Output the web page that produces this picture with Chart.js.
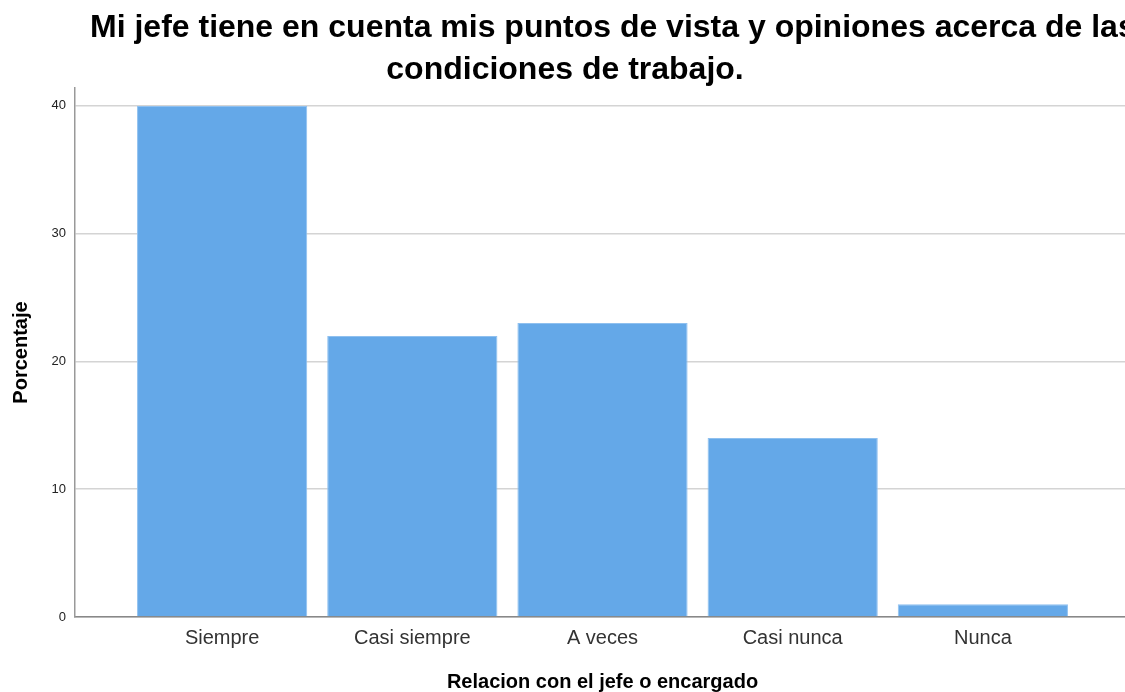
<!DOCTYPE html>
<html>
<head>
<meta charset="utf-8">
<script src="https://cdn.jsdelivr.net/npm/chart.js@4"></script>
<style>
  html, body { margin: 0; padding: 0; background: #fff; overflow: hidden; }
  #wrap { width: 1130px; height: 692px; }
</style>
</head>
<body>
<div id="wrap"><canvas id="chart"></canvas></div>
<script>
const categories = ['Siempre', 'Casi siempre', 'A veces', 'Casi nunca', 'Nunca'];
const porcentaje = [40, 22, 23, 14, 1];
const yTicks = [0, 10, 20, 30, 40];
const titleLines = ['Mi jefe tiene en cuenta mis puntos de vista y opiniones acerca de las', 'condiciones de trabajo.'];

const titlePlugin = {
  id: 'spssTitle',
  afterDraw(chart) {
    const ctx = chart.ctx;
    ctx.save();
    ctx.fillStyle = '#000';
    ctx.font = 'bold 32px "Liberation Sans", Arial, sans-serif';
    ctx.textBaseline = 'middle';
    ctx.textAlign = 'left';
    ctx.fillText(titleLines[0], 90, 28);
    ctx.textAlign = 'center';
    ctx.fillText(titleLines[1], 565, 70);
    ctx.restore();
  }
};

new Chart(document.getElementById('chart'), {
  type: 'bar',
  data: {
    datasets: [{
      label: 'Porcentaje',
      data: porcentaje.map((v, i) => ({ x: i + 1, y: v })),
      backgroundColor: '#64a8e8',
      borderColor: '#8fc0ef',
      borderWidth: 1,
      categoryPercentage: 1,
      barPercentage: 0.895
    }]
  },
  options: {
    animation: false,
    responsive: true,
    maintainAspectRatio: false,
    layout: { padding: { top: 88, left: 0, right: 0, bottom: 0 } },
    plugins: { legend: { display: false }, tooltip: { enabled: false } },
    scales: {
      x: {
        type: 'linear',
        offset: false,
        min: 1 - 147 / 190,
        max: 1 + 907 / 190,
        afterBuildTicks: s => { s.ticks = categories.map((c, i) => ({ value: i + 1 })); },
        afterFit: s => { s.height = 75; },
        grid: { display: false, drawTicks: false },
        border: { color: '#888', width: 1.5 },
        ticks: {
          padding: 9,
          color: '#333',
          font: { family: '"Liberation Sans", Arial, sans-serif', size: 20 },
          callback: v => categories[v - 1]
        },
        title: {
          display: true,
          text: 'Relacion con el jefe o encargado',
          color: '#000',
          padding: 0,
          font: { family: '"Liberation Sans", Arial, sans-serif', size: 20, weight: 'bold', lineHeight: 1 }
        }
      },
      y: {
        min: 0,
        max: 41.4,
        afterBuildTicks: s => { s.ticks = yTicks.map(v => ({ value: v })); },
        afterFit: s => { s.width = 75; },
        grid: { color: '#d4d4d4', lineWidth: 1.5, drawTicks: false },
        border: { color: '#999', width: 1.5 },
        ticks: {
          padding: 9,
          color: '#222',
          font: { family: '"Liberation Sans", Arial, sans-serif', size: 13 }
        },
        title: {
          display: true,
          text: 'Porcentaje',
          color: '#000',
          padding: { top: 9, bottom: 0 },
          font: { family: '"Liberation Sans", Arial, sans-serif', size: 20, weight: 'bold' }
        }
      }
    }
  },
  plugins: [titlePlugin]
});
</script>
</body>
</html>
